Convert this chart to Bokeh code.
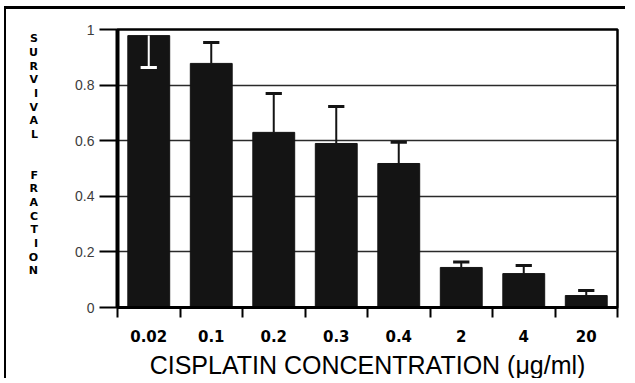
from bokeh.plotting import figure
from bokeh.models import Range1d, FixedTicker
from bokeh.embed import file_html
from bokeh.resources import INLINE

# ---- data ----
concentrations = ["0.02", "0.1", "0.2", "0.3", "0.4", "2", "4", "20"]
survival = [0.978, 0.878, 0.630, 0.590, 0.518, 0.144, 0.122, 0.043]
sem = [0.115, 0.075, 0.140, 0.133, 0.076, 0.020, 0.029, 0.018]
y_ticks = [0, 0.2, 0.4, 0.6, 0.8, 1.0]
y_tick_labels = ["0", "0.2", "0.4", "0.6", "0.8", "1"]
x_title = "CISPLATIN CONCENTRATION (\u03bcg/ml)"
y_title_words = ["SURVIVAL", "FRACTION"]

n = len(concentrations)
xs = [i + 0.5 for i in range(n)]

p = figure(width=621, height=372, output_backend="svg", toolbar_location=None,
           x_range=Range1d(0, n), y_range=Range1d(0, 1),
           min_border_left=111, min_border_right=10,
           min_border_top=20, min_border_bottom=74)
p.styles = {"margin-left": "4px", "margin-top": "6px",
            "border-top": "3px solid black", "border-left": "2px solid black"}
p.background_fill_color = "white"
p.border_fill_color = "white"
p.outline_line_color = "black"
p.outline_line_width = 2.5

# x axis: labels at bar centres, ticks at category boundaries
xa = p.xaxis[0]
xa.ticker = FixedTicker(ticks=xs, minor_ticks=list(range(n + 1)))
xa.major_label_overrides = {x: c for x, c in zip(xs, concentrations)}
xa.major_tick_in = 0
xa.major_tick_out = 0
xa.minor_tick_in = 0
xa.minor_tick_out = 10
xa.minor_tick_line_color = "black"
xa.minor_tick_line_width = 2
xa.axis_line_width = 3
xa.axis_line_color = "black"
xa.major_label_standoff = 12
xa.major_label_text_font = "DejaVu Sans"
xa.major_label_text_font_style = "bold"
xa.major_label_text_font_size = "15px"
xa.major_label_text_color = "black"
xa.axis_label = x_title
xa.axis_label_standoff = 6
xa.axis_label_text_font = "Liberation Sans"
xa.axis_label_text_font_style = "normal"
xa.axis_label_text_font_size = "25px"
xa.axis_label_text_color = "black"

ya = p.yaxis[0]
ya.ticker = FixedTicker(ticks=y_ticks, minor_ticks=[])
ya.major_label_overrides = {t: l for t, l in zip(y_ticks, y_tick_labels)}
ya.major_tick_in = 0
ya.major_tick_out = 18
ya.major_tick_line_width = 2
ya.major_tick_line_color = "black"
ya.axis_line_width = 4
ya.axis_line_color = "black"
ya.major_label_standoff = 5
ya.major_label_text_font = "Liberation Sans"
ya.major_label_text_font_size = "14px"
ya.major_label_text_color = "#3c3c3c"

# stacked one-letter-per-line y title; trailing blank lines lift the stack
stack = "\n\n\n".join("\n".join(w) for w in y_title_words) + "\n \n "
ya.axis_label = stack
ya.axis_label_orientation = "horizontal"
ya.axis_label_standoff = 34
ya.axis_label_text_font = "DejaVu Sans"
ya.axis_label_text_font_style = "bold"
ya.axis_label_text_font_size = "11px"
ya.axis_label_text_line_height = 1.05
ya.axis_label_text_align = "center"
ya.axis_label_text_color = "black"

p.xgrid.visible = False
p.ygrid.ticker = FixedTicker(ticks=y_ticks[1:-1], minor_ticks=[])
p.ygrid.grid_line_color = "#2a2a2a"
p.ygrid.grid_line_width = 1.5

# bars
p.vbar(x=xs, top=survival, width=0.67, fill_color="#141414", line_color="#141414")

# error bars (drawn downward in white when the upper one would leave the frame)
ends, cols = [], []
for v, e in zip(survival, sem):
    if v + e > 1:
        ends.append(v - e)
        cols.append("white")
    else:
        ends.append(v + e)
        cols.append("#141414")
p.segment(x0=xs, y0=survival, x1=xs, y1=ends, line_color=cols, line_width=2)
cap = 0.13
p.segment(x0=[x - cap for x in xs], y0=ends, x1=[x + cap for x in xs], y1=ends,
          line_color=cols, line_width=3)

open("out.html", "w", encoding="utf-8").write(file_html(p, INLINE))
